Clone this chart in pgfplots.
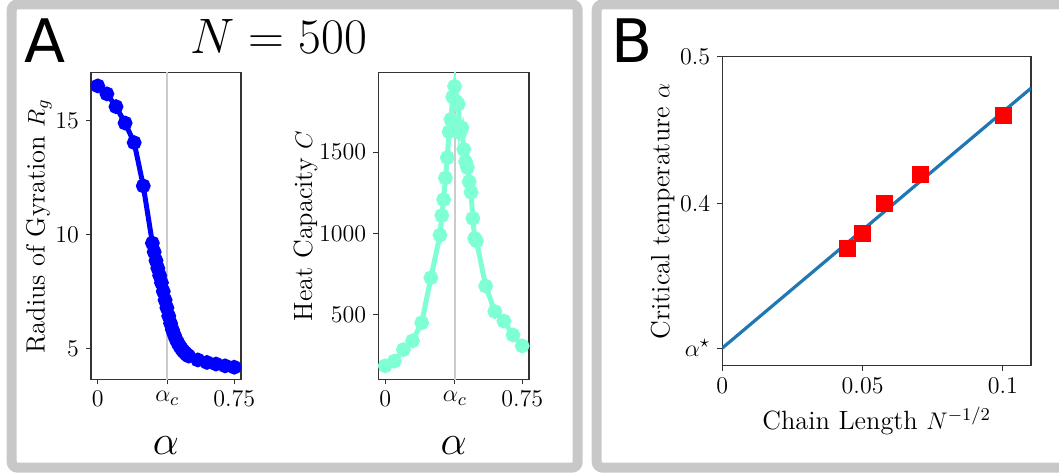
\documentclass[border=0pt]{standalone}
\usepackage{fontspec}
\usepackage{pgfplots}
\pgfplotsset{compat=1.18}
\newfontfamily\djv{DejaVu Sans}

\definecolor{panelgray}{RGB}{200,200,200}
\definecolor{aqua}{RGB}{127,255,212}
\definecolor{mplblue}{HTML}{1F77B4}
\definecolor{vline}{RGB}{204,204,204}

\pgfplotsset{
  mpl/.style={
    scale only axis,
    tick pos=left,
    tick align=outside,
    major tick length=2.5pt,
    tick style={black!80, line width=0.5pt},
    axis line style={black!80, line width=0.6pt},
    tick label style={font=\fontsize{13.2}{16}\selectfont},
    label style={font=\fontsize{13.2}{16}\selectfont},
    /pgf/number format/1000 sep={},
    clip=true,
  },
  alab/.style={xlabel={$\alpha$}, xlabel style={font=\fontsize{21}{24}\selectfont, yshift=-8pt}},
}

\begin{document}
\begin{tikzpicture}
\path[use as bounding box, clip] (0,0) rectangle (529.5pt,236.5pt);

% panel frames
\draw[panelgray, line width=5pt, rounded corners=3pt]
  (5.85pt,2.65pt) rectangle (288.85pt,234.35pt);
\draw[panelgray, line width=5pt, rounded corners=3pt]
  (298.35pt,2.65pt) rectangle (545pt,234.35pt);

\node[anchor=base west, inner sep=0pt, font=\djv\fontsize{30}{36}\selectfont] at (12pt,205.5pt) {A};
\node[anchor=base west, inner sep=0pt, font=\djv\fontsize{30}{36}\selectfont] at (305.5pt,205.5pt) {B};
\node[anchor=base, inner sep=0pt, font=\fontsize{32.5}{38}\selectfont] at (139.5pt,210pt) {$N = 500$};

% ---- A: radius of gyration
\begin{axis}[mpl, alab,
  at={(45.5pt,46.85pt)}, anchor=south west,
  width=75pt, height=153.3pt,
  xmin=-0.0375, xmax=0.7875, ymin=3.64, ymax=17.1,
  xtick={0,0.382,0.75}, xticklabels={$0$,$\alpha_c$,$0.75$},
  ytick={5,10,15},
  ylabel={Radius of Gyration $R_g$}, ylabel shift=-5pt,
]
\addplot[vline, line width=1pt] coordinates {(0.382,0) (0.382,20)};
\addplot[blue, line width=2.5pt, mark=*, mark size=2.4pt] coordinates {
 (0.00,16.52) (0.05,16.17) (0.10,15.61) (0.15,14.89) (0.20,14.03) (0.25,12.13)
 (0.30,9.62) (0.31,9.23) (0.32,8.85) (0.33,8.52) (0.34,8.20) (0.35,7.88)
 (0.36,7.50) (0.37,7.12) (0.38,6.78) (0.39,6.42) (0.40,6.10) (0.41,5.82)
 (0.42,5.60) (0.43,5.40) (0.44,5.24) (0.45,5.10) (0.46,4.98) (0.47,4.88)
 (0.48,4.80) (0.49,4.72) (0.50,4.66) (0.55,4.49) (0.60,4.38) (0.65,4.31)
 (0.70,4.23) (0.75,4.17)
};
\end{axis}

% ---- A: heat capacity
\begin{axis}[mpl, alab,
  at={(189.15pt,46.85pt)}, anchor=south west,
  width=75.35pt, height=153.3pt,
  xmin=-0.0375, xmax=0.7875, ymin=100, ymax=1990,
  xtick={0,0.382,0.75}, xticklabels={$0$,$\alpha_c$,$0.75$},
  ytick={500,1000,1500},
  ylabel={Heat Capacity $C$}, ylabel shift=-6pt,
]
\addplot[vline, line width=1pt] coordinates {(0.382,0) (0.382,2100)};
\addplot[aqua, line width=2.5pt, mark=*, mark size=2.4pt] coordinates {
 (0.00,183) (0.05,212) (0.10,283) (0.15,337) (0.20,449) (0.25,726)
 (0.30,989) (0.31,1110) (0.32,1208) (0.33,1341) (0.34,1467) (0.35,1626)
 (0.36,1702) (0.37,1840) (0.38,1906) (0.39,1810) (0.40,1796) (0.41,1620)
 (0.42,1651) (0.43,1518) (0.44,1442) (0.45,1406) (0.46,1318) (0.47,1253)
 (0.48,1092) (0.49,969) (0.50,953) (0.55,675) (0.60,518) (0.65,459)
 (0.70,373) (0.75,306)
};
\end{axis}

% ---- B: critical temperature vs chain length
\begin{axis}[mpl,
  at={(361.15pt,53.65pt)}, anchor=south west,
  width=154.35pt, height=154.5pt,
  xmin=0, xmax=0.11, ymin=0.29, ymax=0.5,
  xtick={0,0.05,0.1}, xticklabels={$0$,$0.05$,$0.1$},
  ytick={0.302,0.4,0.5}, yticklabels={$\alpha^{\star}$,$0.4$,$0.5$},
  xlabel={Chain Length $N^{-1/2}$},
  ylabel={Critical temperature $\alpha$}, ylabel shift=-4pt,
]
\addplot[only marks, mark=square*, mark size=4pt, red] coordinates {
 (0.0447,0.370) (0.0500,0.380) (0.0577,0.400) (0.0707,0.420) (0.1000,0.460)
};
\addplot[mplblue, line width=1.6pt] coordinates {(0,0.302) (0.11,0.4786)};
\end{axis}
\end{tikzpicture}
\end{document}
